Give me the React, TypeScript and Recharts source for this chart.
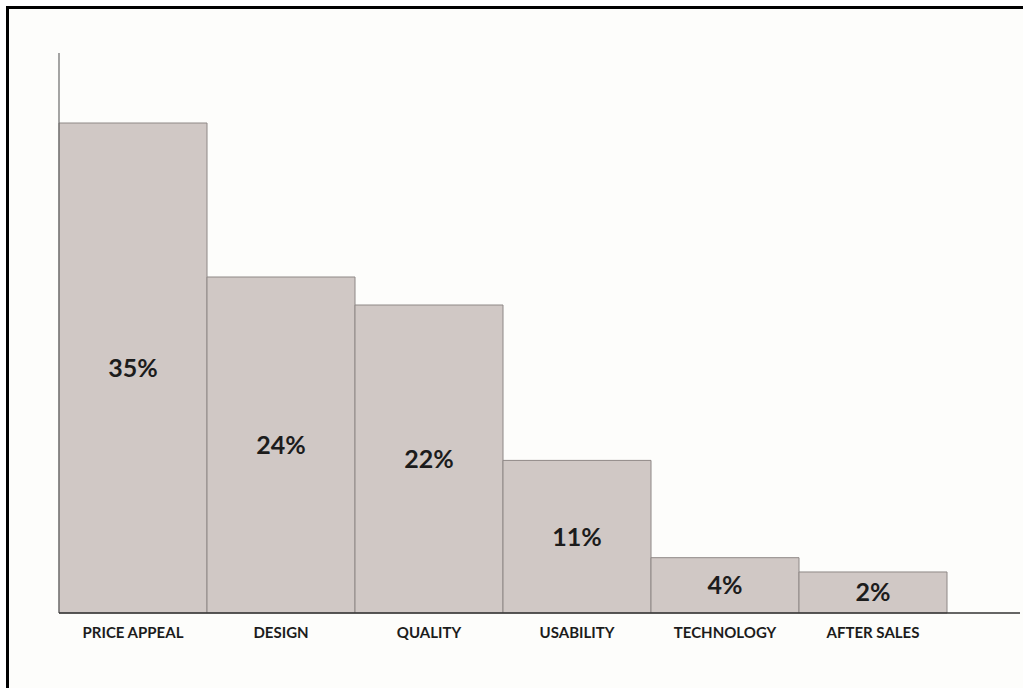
import { BarChart, Bar, XAxis, YAxis, LabelList } from 'recharts';

const categories = ['PRICE APPEAL', 'DESIGN', 'QUALITY', 'USABILITY', 'TECHNOLOGY', 'AFTER SALES'];
const shares = [35, 24, 22, 10.9, 3.95, 2.93];
const shareLabels = ['35%', '24%', '22%', '11%', '4%', '2%'];

const data = categories.map((name, i) => ({ name, share: shares[i], label: shareLabels[i] }));

const FONT = 'Lato, "Open Sans", sans-serif';

export default function App() {
  return (
    <div
      style={{
        position: 'fixed',
        left: 6,
        top: 6,
        width: 1040,
        height: 700,
        border: '3px solid #000',
        background: '#fdfdfb',
      }}
    >
      <BarChart
        width={1030}
        height={680}
        data={data}
        margin={{ top: 44, right: 19, bottom: 46, left: 49 }}
        barCategoryGap={0}
      >
        <YAxis
          domain={[0, 40]}
          width={1}
          tick={false}
          tickLine={false}
          axisLine={{ stroke: '#6a6a6a', strokeWidth: 1.2 }}
        />
        <XAxis
          dataKey="name"
          height={30}
          padding={{ left: 0, right: 73 }}
          tickLine={false}
          tickMargin={8}
          interval={0}
          axisLine={{ stroke: '#333', strokeWidth: 1.5 }}
          tick={{ fill: '#1c1c1c', fontSize: 15, fontWeight: 700, fontFamily: FONT }}
        />
        <Bar dataKey="share" fill="#d0c8c5" stroke="#8e8886" strokeWidth={1} isAnimationActive={false}>
          <LabelList
            dataKey="label"
            position="center"
            fill="#1c1c1c"
            fontSize={25}
            fontWeight={700}
            fontFamily={FONT}
          />
        </Bar>
      </BarChart>
    </div>
  );
}
